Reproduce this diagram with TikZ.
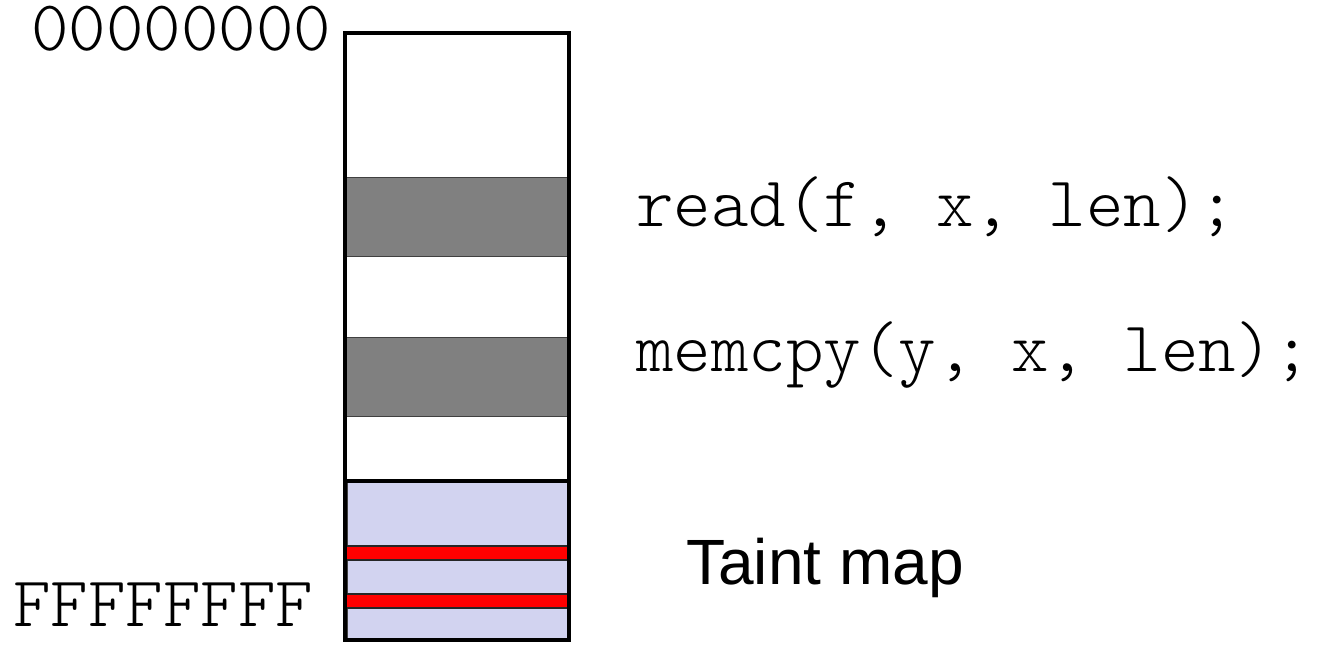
\documentclass[tikz,border=0pt]{standalone}
\usepackage{fontspec}
\setmainfont{Liberation Sans}
\newfontfamily\cour{Latin Modern Mono Light}
\definecolor{lav}{RGB}{210,211,240}
\definecolor{band}{RGB}{128,128,128}
\definecolor{edge}{RGB}{64,64,64}
\begin{document}
\begin{tikzpicture}[x=1pt,y=-1pt,
  code/.style={anchor=base west,inner sep=0pt,font=\cour\fontsize{71.4}{80}\selectfont},
  lbl/.style={anchor=base west,inner sep=0pt,font=\fontsize{64}{70}\selectfont},
  grayband/.style={fill=band,draw=edge,line width=1pt},
  redband/.style={fill=red,draw=black!85,line width=1.8pt},
  lavarea/.style={fill=lav,draw=edge,line width=0.8pt},
  outer/.style={draw=black,line width=4pt}]
\useasboundingbox[fill=white] (0,0) rectangle (1321,646);
% memory column
\fill[white] (345,33) rectangle (569,640);
\node[lavarea,inner sep=0pt,minimum width=220pt,minimum height=157pt] (tmap) at (457,559.5) {};
\node[grayband,inner sep=0pt,minimum width=222pt,minimum height=79pt] (g1) at (457,217) {};
\node[grayband,inner sep=0pt,minimum width=222pt,minimum height=79pt] (g2) at (457,377) {};
\node[redband,inner sep=0pt,minimum width=222pt,minimum height=14.5pt] (r1) at (457,553) {};
\node[redband,inner sep=0pt,minimum width=222pt,minimum height=14pt] (r2) at (457,601) {};
\node[outer,inner sep=0pt,minimum width=224pt,minimum height=607pt] (mem) at (457,336.5) {};
\coordinate (sl) at (345,481);
\coordinate (sr) at (569,481);
\draw[line width=4pt] (sl) -- (sr);
% labels
\node[code] (top) at (31,50) {00000000};
\node[code] (bot) at (13,626) {FFFFFFFF};
\node[code] (rd) at (636,226) {read(f, x, len);};
\node[code] (mc) at (636,371) {memcpy(y, x, len);};
\node[lbl] (tm) at (686,584) {Taint map};
\end{tikzpicture}
\end{document}
